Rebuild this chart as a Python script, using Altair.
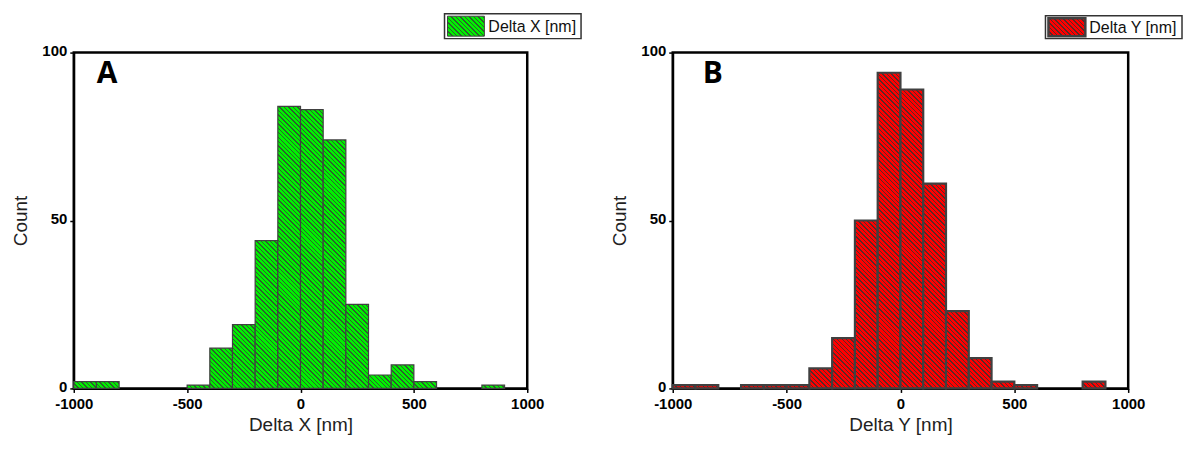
import json
import math
import altair as alt
import pandas as pd

# ---------------- data ----------------
bin_starts = list(range(-1000, 1000, 100))
bin_width = 100
count_dx = [2, 2, 0, 0, 0, 1, 12, 19, 44, 84, 83, 74, 25, 4, 7, 2, 0, 0, 1, 0]
count_dy = [1, 1, 0, 1, 1, 1, 6, 15, 50, 94, 89, 61, 23, 9, 2, 1, 0, 0, 2, 0]
x_ticks = [-1000, -500, 0, 500, 1000]
y_ticks = [0, 50, 100]
x_titles = ["Delta X [nm]", "Delta Y [nm]"]
legend_texts = ["Delta X [nm]", "Delta Y [nm]"]
panel_labels = ["A", "B"]
y_title = "Count"

FONT = "Liberation Sans"


def hatch(w, h, base, dark, period=4.5, frac=0.32):
    """Diagonal '\\' hatch as a bounding-box linear gradient for a w x h px rect."""
    L = w + h
    k = L / (w * w + h * h)
    stops = []
    n = int(math.ceil(L / period))
    for i in range(n):
        a = min(1.0, i * period / L)
        b = min(1.0, (i + frac) * period / L)
        c = min(1.0, (i + 1) * period / L)
        stops += [
            {"offset": round(a, 5), "color": dark},
            {"offset": round(b, 5), "color": dark},
            {"offset": round(b, 5), "color": base},
            {"offset": round(c, 5), "color": base},
        ]
    return {"gradient": "linear", "x1": 0, "y1": 1,
            "x2": round(k * w, 5), "y2": round(1 - k * h, 5), "stops": stops}


def panel(counts, pw, ph, base, dark, stroke_w, xtitle, label, legend_text,
          leg_x, leg_y, leg_h, label_x, label_y, swatch_stroke):
    df = pd.DataFrame({"start": bin_starts, "n": counts})
    df["end"] = df["start"] + bin_width
    df = df[df["n"] > 0]
    bar_w = pw * bin_width / 2000.0
    grads = {str(c): hatch(bar_w, c * ph / 100.0, base, dark)
             for c in sorted(set(df["n"]))}
    expr = "(" + json.dumps(grads, separators=(",", ":")) + ")[datum.n]"

    bars = alt.Chart(df).mark_bar(
        fill=alt.ExprRef(expr), stroke="#404040", strokeWidth=stroke_w
    ).encode(
        x=alt.X("start:Q",
                scale=alt.Scale(domain=[-1000, 1000], nice=False, zero=False),
                axis=alt.Axis(values=x_ticks, title=xtitle,
                              labelExpr="'' + datum.value")),
        x2="end:Q",
        y=alt.Y("n:Q", scale=alt.Scale(domain=[0, 100], nice=False),
                axis=alt.Axis(values=y_ticks, title=y_title, labelOffset=-2,
                              labelExpr="'' + datum.value")),
        y2=alt.datum(0),
    )

    one = pd.DataFrame({"k": [0]})
    box = alt.Chart(one).mark_rect(fill="white", stroke="#333333", strokeWidth=1.5).encode(
        x=alt.value(leg_x), x2=alt.value(leg_x + 137),
        y=alt.value(leg_y), y2=alt.value(leg_y + leg_h))
    sw = hatch(37, leg_h - 5, base, dark)
    swatch = alt.Chart(one).mark_rect(fill=sw, stroke="#404040", strokeWidth=swatch_stroke).encode(
        x=alt.value(leg_x + 3), x2=alt.value(leg_x + 40),
        y=alt.value(leg_y + 2.5), y2=alt.value(leg_y + leg_h - 2.5))
    ltext = alt.Chart(one).mark_text(align="left", baseline="middle", font=FONT,
                                     fontSize=16, color="#111111").encode(
        x=alt.value(leg_x + 44), y=alt.value(leg_y + leg_h / 2 + 1),
        text=alt.value(legend_text))
    lab = alt.Chart(one).mark_text(align="left", baseline="alphabetic", font="Open Sans",
                                   fontWeight="bold", fontSize=30, color="black").encode(
        x=alt.value(label_x), y=alt.value(label_y), text=alt.value(label))
    return alt.layer(bars, box, swatch, ltext, lab).properties(width=pw, height=ph)


left = panel(count_dx, 455, 337, "#00f000", "#2d602d", 1.2, x_titles[0],
             panel_labels[0], legend_texts[0], 372, -39, 25, 23, 31, 1.0)
right = panel(count_dy, 457, 337, "#ff0000", "#5a2828", 2.2, x_titles[1],
              panel_labels[1], legend_texts[1], 374, -37, 23, 30, 31, 2.5)

chart = alt.hconcat(left, right, spacing=26).configure_view(
    stroke="black", strokeWidth=2.5
).configure_axis(
    domainColor="black", domainWidth=2, tickColor="black", tickWidth=1.5, tickSize=4,
    grid=False, labelFont=FONT, labelFontWeight="bold", labelFontSize=15,
    labelColor="black", labelPadding=3, labelFlush=False,
    titleFont=FONT, titleFontWeight="normal", titleFontSize=19, titleColor="#222222",
).configure_axisY(titlePadding=11).configure_axisX(labelPadding=4, titlePadding=4).properties(
    padding={"left": 2, "top": 3, "right": 0, "bottom": 0}
)

chart.save("out.html", embed_options={"renderer": "svg", "actions": False})
